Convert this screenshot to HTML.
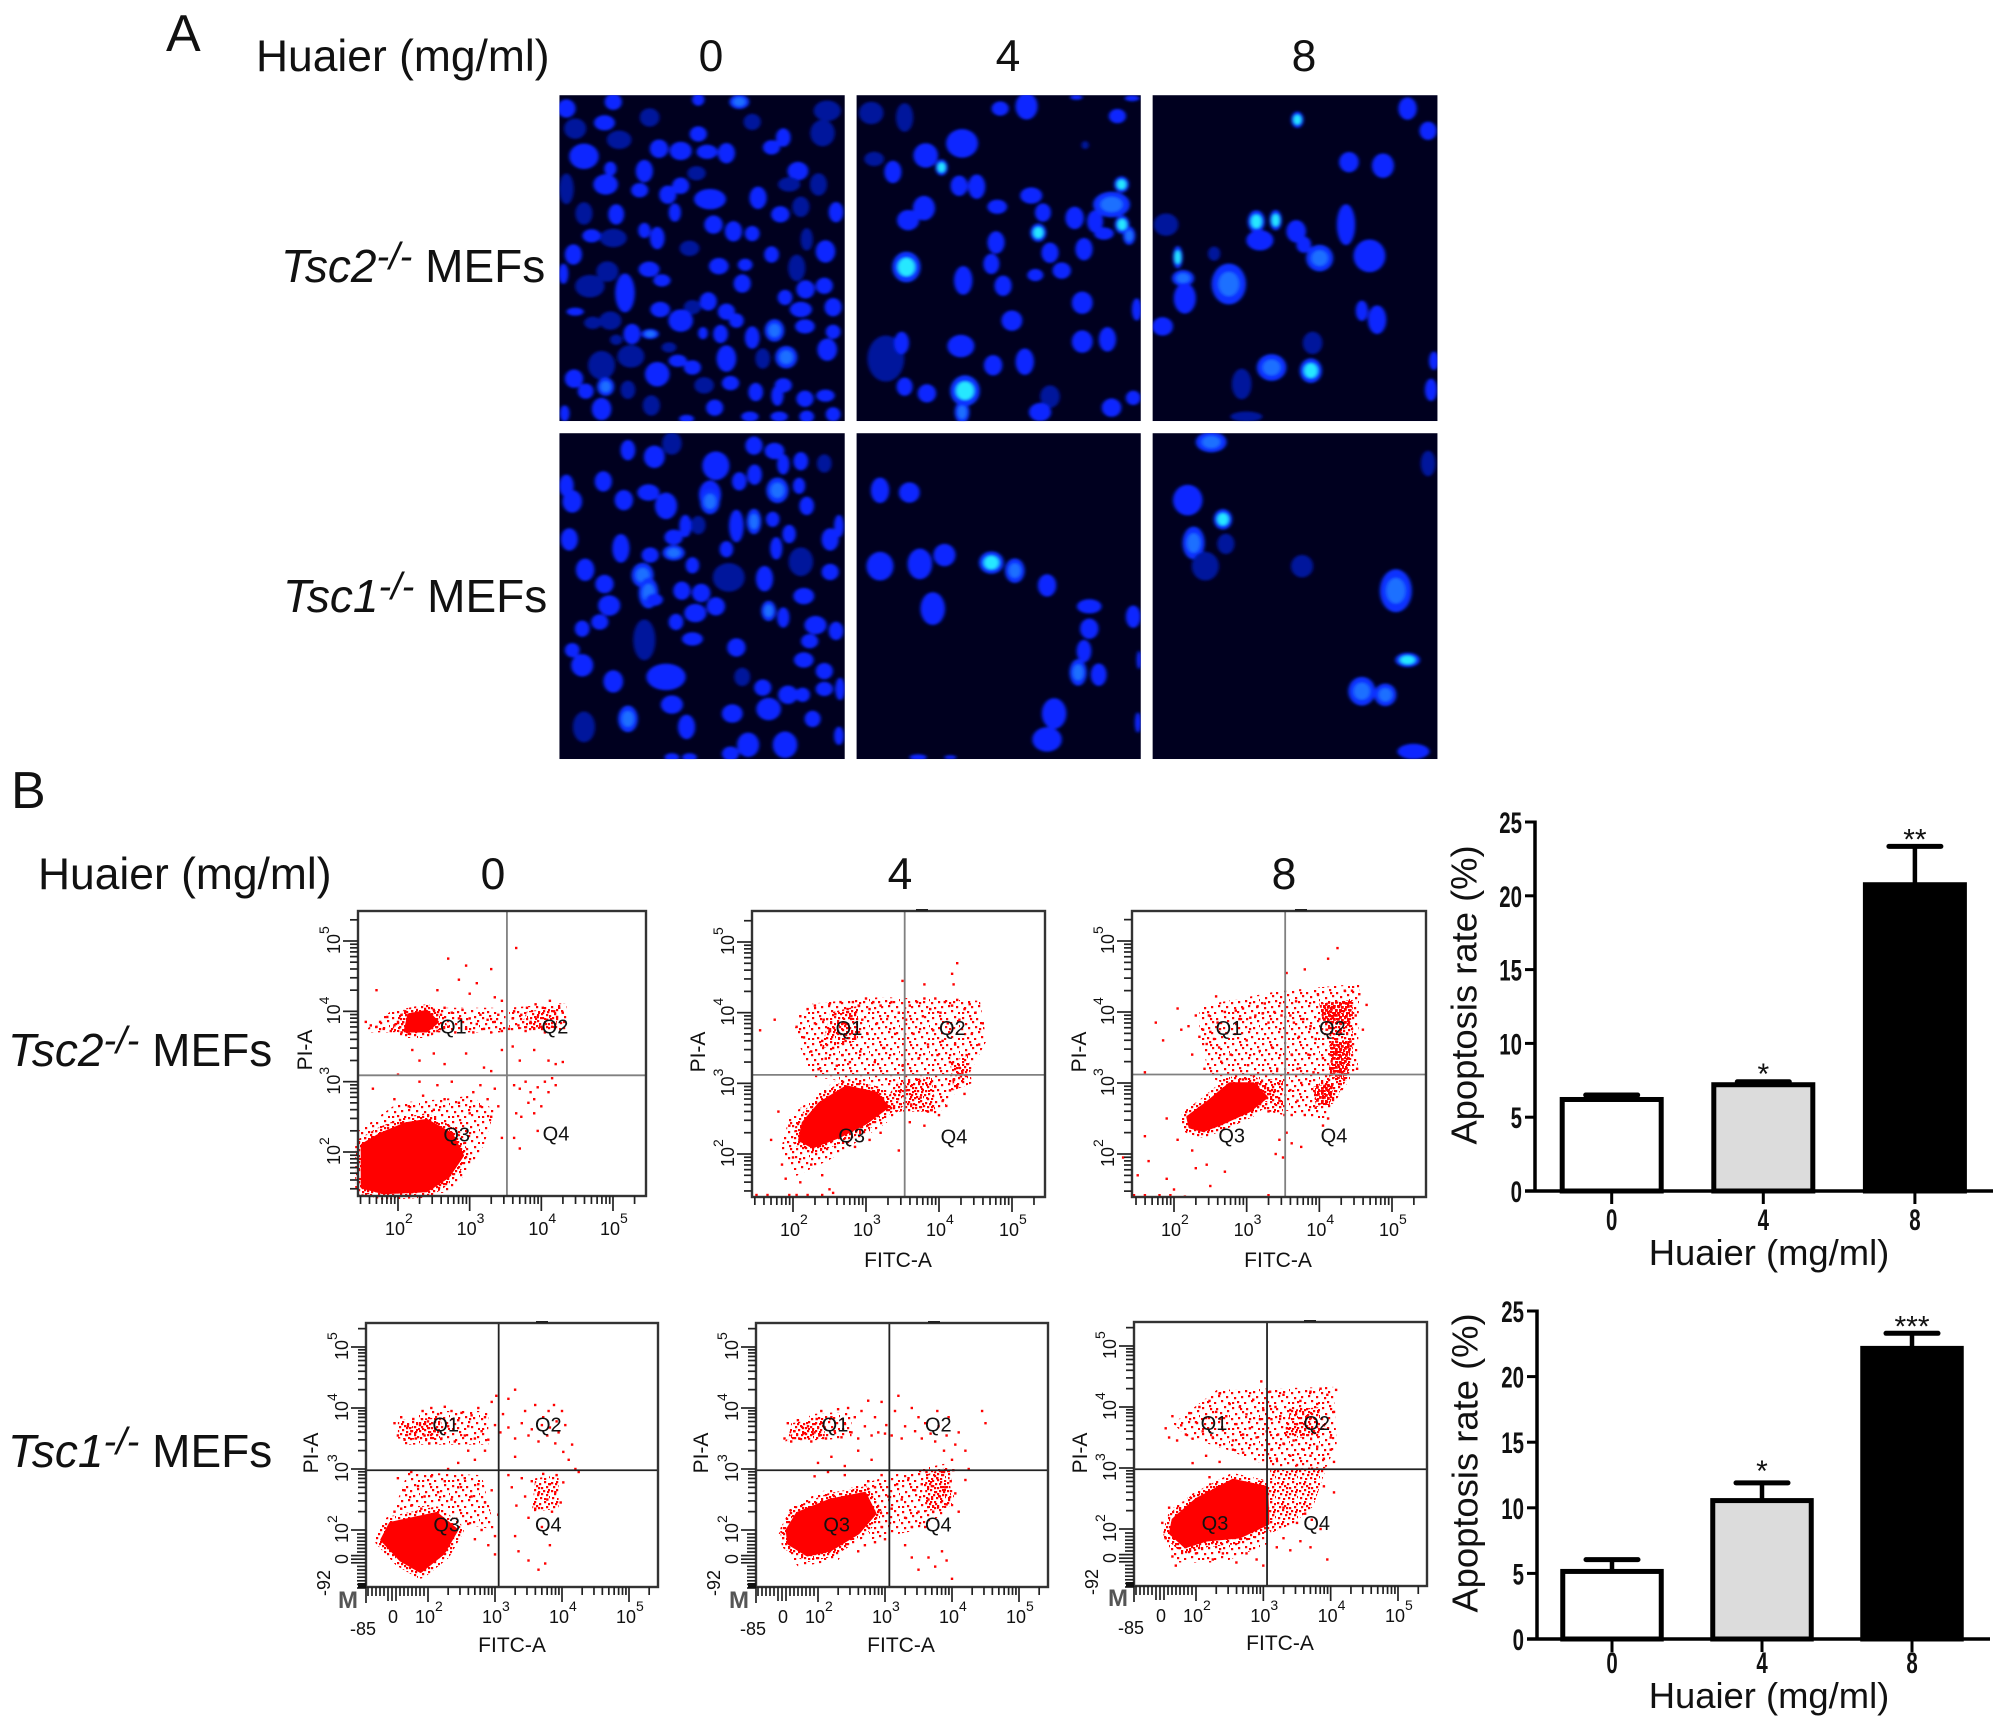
<!DOCTYPE html>
<html lang="en">
<head>
<meta charset="utf-8">
<title>Huaier apoptosis figure</title>
<style>
html,body{margin:0;padding:0;background:#fff;width:2008px;height:1729px;overflow:hidden}
svg{display:block}
text{font-family:"Liberation Sans",Arial,sans-serif;fill:#111}
</style>
</head>
<body>
<svg id="fig" xmlns="http://www.w3.org/2000/svg" width="2008" height="1729" viewBox="0 0 2008 1729">
<defs>
<filter id="soft" x="-30%" y="-30%" width="160%" height="160%"><feGaussianBlur stdDeviation="3"/></filter>
</defs>
<rect x="0" y="0" width="2008" height="1729" fill="#fff"/>

<text x="166" y="51" font-size="52">A</text>
<text x="256" y="71" font-size="44.4">Huaier (mg/ml)</text>
<text x="711" y="71" font-size="44.4" text-anchor="middle">0</text>
<text x="1008" y="71" font-size="44.4" text-anchor="middle">4</text>
<text x="1304" y="71" font-size="44.4" text-anchor="middle">8</text>
<text x="281" y="282" font-size="46"><tspan font-style="italic">Tsc2</tspan><tspan font-style="italic" font-size="38" dy="-13">-/-</tspan><tspan dy="13"> MEFs</tspan></text>
<text x="283" y="612" font-size="46"><tspan font-style="italic">Tsc1</tspan><tspan font-style="italic" font-size="38" dy="-13">-/-</tspan><tspan dy="13"> MEFs</tspan></text>

<text x="11" y="808" font-size="52">B</text>
<text x="38" y="889" font-size="44.4">Huaier (mg/ml)</text>
<text x="493" y="889" font-size="44.4" text-anchor="middle">0</text>
<text x="900" y="889" font-size="44.4" text-anchor="middle">4</text>
<text x="1284" y="889" font-size="44.4" text-anchor="middle">8</text>
<text x="8" y="1066" font-size="46"><tspan font-style="italic">Tsc2</tspan><tspan font-style="italic" font-size="38" dy="-13">-/-</tspan><tspan dy="13"> MEFs</tspan></text>
<text x="8" y="1467" font-size="46"><tspan font-style="italic">Tsc1</tspan><tspan font-style="italic" font-size="38" dy="-13">-/-</tspan><tspan dy="13"> MEFs</tspan></text>

<g id="micro"></g>
<g id="flow"></g>
<g id="bars"></g>
</svg>

<script>
const NS = 'http://www.w3.org/2000/svg';

/* ---------- micrograph nuclei: x, y, rx, ry, tone ---------- */
const microRects = [[33,35,520,765],[540,35,1025,765],[1045,35,1531,765],[33,792,520,1522],[540,792,1025,1522],[1045,792,1531,1522]];
const nucleiA0 = [45,65,15,18,1,125,50,14,16,1,270,45,10,12,1,340,50,16,14,2,490,70,22,20,0,60,110,18,20,0,110,97,17,15,1,187,85,16,18,0,270,122,14,15,1,362,95,14,16,0,415,130,12,18,1,482,120,20,26,0,135,135,20,18,0,75,172,24,25,1,203,155,15,18,1,240,160,18,18,1,285,162,17,14,1,318,165,14,20,1,395,152,14,14,1,440,205,17,18,1,120,200,10,14,1,178,205,14,22,1,112,235,20,20,1,45,245,12,30,0,240,238,14,16,1,267,210,15,14,0,218,258,14,18,1,170,248,14,14,1,290,268,26,20,1,372,265,14,22,1,475,235,14,22,0,425,235,18,14,0,130,302,13,20,1,230,298,10,18,1,75,300,14,22,0,445,285,14,20,0,410,302,15,16,1,505,297,12,20,1,296,325,15,18,1,330,340,14,20,1,362,345,12,15,1,178,338,10,15,1,200,355,12,22,1,88,350,15,13,1,125,355,22,18,0,255,378,16,15,0,57,392,14,20,1,395,392,12,16,1,487,385,16,22,1,455,358,10,22,0,305,418,16,16,1,350,415,12,12,1,186,425,17,15,1,115,430,18,20,0,438,422,14,26,0,40,435,8,20,1,208,450,14,12,1,345,457,14,18,1,85,463,24,22,0,145,478,16,38,1,453,470,15,18,1,485,462,14,16,1,418,488,12,15,1,287,497,14,18,1,205,515,16,15,1,445,515,18,15,1,500,510,14,18,1,60,520,14,8,1,318,520,14,16,1,260,510,14,14,0,120,540,18,18,0,90,545,14,12,0,240,540,20,22,1,335,540,12,14,1,452,553,16,14,1,157,570,14,20,1,188,570,14,10,2,400,562,16,22,2,278,568,8,12,1,308,570,12,18,1,362,578,12,22,1,500,565,12,14,1,490,605,16,22,1,130,583,10,10,0,155,620,22,22,0,220,600,12,10,0,318,625,16,26,1,420,622,18,22,2,380,625,12,20,0,235,630,15,12,1,105,640,22,28,0,58,670,15,18,1,200,660,20,24,1,260,645,14,14,1,325,680,14,14,1,280,685,16,16,0,415,685,14,14,1,368,700,12,18,1,78,698,13,15,1,112,688,14,18,2,150,695,12,18,0,405,708,10,20,1,452,715,14,16,1,487,708,15,12,1,105,738,16,22,1,190,730,14,20,0,298,735,14,16,1,42,748,8,16,1,358,755,14,10,1,408,755,14,10,1,455,755,12,12,1,500,750,12,14,1,250,760,12,8,1];
const nucleiA4 = [565,75,20,22,0,622,85,14,28,0,785,65,14,14,1,830,60,18,26,1,915,40,10,5,1,1010,42,12,6,1,985,82,14,14,1,720,143,26,28,1,658,170,20,24,1,685,197,10,16,3,570,178,16,14,0,602,207,14,22,1,715,238,14,20,1,745,240,14,24,1,930,147,6,8,0,838,260,18,16,1,780,285,16,14,1,858,298,13,18,1,655,288,18,24,1,628,315,18,20,1,912,310,15,22,1,947,318,13,22,1,975,280,30,25,2,992,235,12,16,3,993,325,12,18,3,1005,350,10,18,2,962,345,16,12,1,850,343,13,18,3,778,365,14,22,1,870,388,14,20,1,928,380,14,22,1,770,413,13,20,1,625,420,23,30,3,722,450,15,28,1,845,438,13,12,1,890,428,15,16,1,790,462,14,20,1,925,500,17,22,1,1018,515,8,22,1,805,540,17,20,1,590,625,30,45,0,617,590,12,22,1,718,597,22,22,1,925,587,17,22,1,968,582,14,24,1,773,640,15,20,1,827,632,15,26,1,622,688,13,18,1,660,703,15,18,1,725,697,24,30,3,720,745,12,22,2,870,710,16,22,0,853,745,18,18,1,975,735,16,18,1,1012,713,12,14,1];
const nucleiA8 = [1292,90,10,16,3,1480,65,15,22,1,1515,115,14,18,1,1380,185,16,20,1,1438,193,18,24,1,1068,325,20,22,0,1222,318,14,22,3,1255,315,10,20,3,1228,360,22,20,1,1290,340,16,22,1,1303,370,12,16,1,1375,325,15,40,1,1330,400,22,26,2,1415,395,26,32,1,1088,398,8,22,3,1097,445,18,16,2,1175,458,28,40,2,1100,490,18,30,1,1150,390,10,14,0,1402,518,10,20,1,1428,538,15,28,1,1062,553,17,18,1,1248,645,24,26,2,1315,652,18,24,3,1318,590,16,22,0,1197,682,16,30,0,1520,695,10,22,1,1525,630,8,18,1,1205,755,26,10,0];
const nucleiB0 = [45,910,12,22,1,150,830,12,20,1,195,845,17,22,1,225,815,16,22,0,300,865,22,28,1,365,820,14,18,1,400,832,16,16,1,445,855,12,18,1,485,860,12,18,0,108,900,14,20,1,340,900,12,18,1,366,885,12,20,1,415,862,10,20,1,405,920,18,25,2,442,910,10,16,1,55,945,16,22,1,143,942,15,20,1,185,925,18,16,1,215,955,18,26,1,290,930,18,28,1,290,945,16,25,2,455,955,12,18,1,50,1030,14,22,1,248,1000,10,22,1,270,998,12,18,0,335,1000,12,32,1,365,990,12,25,2,397,985,11,15,1,425,1018,11,18,1,495,1030,14,22,1,510,1000,8,22,1,228,1025,15,15,1,138,1050,14,28,1,188,1065,14,15,1,228,1060,18,15,2,260,1088,11,16,1,318,1052,11,16,1,403,1050,10,22,1,445,1080,20,28,0,77,1098,15,22,1,175,1110,18,24,2,322,1115,26,28,0,383,1118,14,25,1,495,1103,14,16,1,110,1130,15,18,1,185,1150,16,30,2,242,1145,14,18,1,275,1150,15,18,1,300,1180,15,18,1,450,1157,17,16,1,195,1165,14,12,1,118,1178,18,20,1,265,1195,18,18,1,390,1190,12,20,2,415,1205,10,20,1,102,1215,14,15,1,72,1230,12,16,1,232,1215,12,16,1,470,1222,18,18,1,505,1235,12,18,1,178,1255,18,40,0,260,1253,17,13,1,460,1258,14,14,1,335,1272,15,18,1,55,1278,12,14,1,450,1300,16,15,1,72,1312,18,22,1,215,1338,32,26,1,485,1325,14,16,1,125,1348,16,22,1,345,1338,13,18,0,380,1362,14,16,1,423,1378,16,18,1,448,1378,12,14,1,485,1365,14,14,1,512,1365,8,22,1,225,1400,18,18,1,150,1432,16,26,2,328,1420,17,18,1,390,1410,20,22,1,465,1432,13,16,1,250,1450,14,24,1,75,1450,18,30,0,510,1470,8,18,1,355,1490,18,24,1,418,1490,20,26,1,325,1510,14,14,1,225,1518,12,8,1,255,1518,12,8,1];
const nucleiB4 = [580,920,15,25,1,630,925,17,20,1,580,1090,22,28,1,648,1085,20,30,1,690,1065,18,22,1,770,1082,20,22,3,810,1100,16,24,2,865,1133,15,22,1,670,1185,20,32,1,937,1180,20,14,1,937,1230,15,20,1,1012,1203,12,22,1,928,1280,12,22,1,918,1328,14,26,2,953,1333,13,22,1,877,1420,20,30,1,865,1478,24,24,1,1020,1440,5,20,1,1022,1300,4,18,1,645,1518,14,6,1,700,1518,10,4,1];
const nucleiB8 = [1145,812,25,20,2,1105,942,24,30,1,1165,985,15,20,3,1115,1038,18,32,2,1300,1090,18,22,0,1460,1145,26,42,2,1480,1300,20,14,3,1402,1370,22,28,2,1442,1378,18,22,2,1490,1505,26,15,1,1515,860,12,25,0,1135,1090,22,28,0,1170,1040,14,20,0];
const microSets = [nucleiA0,nucleiA4,nucleiA8,nucleiB0,nucleiB4,nucleiB8];
const microPanelNames = ['tsc2-dose-0','tsc2-dose-4','tsc2-dose-8','tsc1-dose-0','tsc1-dose-4','tsc1-dose-8'];

/* ---------- flow cytometry events in log10 units: x, y pairs ---------- */
const eventsTsc2D0 = [1.55,3.85,1.62,3.8,1.7,3.78,1.75,3.85,1.8,3.75,1.85,3.92,1.9,3.72,1.95,3.8,2.0,3.85,2.05,3.7,2.05,3.95,2.1,4.0,2.15,3.68,2.5,4.02,2.55,3.72,2.6,3.95,2.65,4.05,2.7,3.78,2.75,3.98,2.8,3.7,2.85,3.9,2.9,4.02,2.95,3.75,3.0,3.9,3.05,3.7,3.1,3.82,3.15,3.95,3.2,3.75,3.25,3.88,3.3,3.7,3.35,3.85,3.4,3.95,3.45,3.72,1.7,4.3,2.7,4.75,2.95,4.65,3.3,4.6,2.85,4.45,3.1,4.4,2.55,4.3,3.0,4.25,3.35,4.2,3.45,4.15,3.65,4.9,2.2,3.45,2.3,3.3,2.5,3.4,2.65,3.25,2.95,3.4,3.2,3.2,3.3,3.15,3.45,3.45,3.6,3.5,3.7,3.3,3.9,3.45,4.1,3.3,4.2,3.25,4.3,3.28,2.0,3.1,3.55,3.75,3.6,3.9,3.62,4.0,3.68,3.8,3.72,3.95,3.78,3.72,3.8,4.05,3.85,3.85,3.9,3.75,3.92,4.1,3.95,3.92,4.0,3.78,4.02,4.05,4.05,3.7,4.08,3.88,4.12,4.15,4.15,3.78,4.18,4.0,4.22,3.92,4.25,4.05,4.3,3.98,4.32,3.85,3.62,2.95,3.7,2.9,3.78,3.0,3.85,2.85,3.9,2.75,3.95,2.92,4.0,2.65,4.05,3.0,4.1,2.85,4.15,3.05,4.2,2.95,3.65,2.55,3.72,2.5,3.82,2.7,3.9,2.55,3.95,2.3,3.62,2.2,3.7,2.05,2.75,3.0,2.3,3.0,2.55,2.95,3.05,2.85,3.15,2.95,3.25,2.75,3.35,2.9,1.65,2.9,1.95,2.75,2.15,2.65,2.35,2.8,2.5,2.6,2.65,2.75,2.85,2.7,3.0,2.55,3.15,2.65,3.3,2.5,3.45,2.2,3.4,2.65];
const eventsTsc2D4 = [2.05,3.8,2.1,3.95,2.15,3.65,2.2,4.05,2.25,3.45,2.3,3.85,2.3,4.1,2.35,3.2,2.4,3.6,2.42,3.9,2.45,3.35,2.5,3.75,2.5,4.12,2.55,3.5,2.58,3.98,2.6,3.25,2.62,3.7,2.65,4.15,2.68,3.4,2.7,3.85,2.72,3.6,2.75,4.05,2.78,3.3,2.8,3.95,2.82,4.15,2.85,3.65,2.9,4.1,2.92,3.45,2.95,3.9,3.0,4.2,3.02,3.7,3.05,4.05,3.1,4.15,3.12,3.3,3.15,3.85,3.2,4.1,3.25,3.5,3.3,3.95,3.35,4.15,3.4,3.7,3.45,4.0,3.5,3.25,3.55,3.9,3.6,4.1,3.65,3.7,3.7,4.15,3.72,3.35,3.78,3.95,3.8,4.2,3.85,3.55,3.88,4.05,3.92,3.75,3.95,4.2,3.98,3.4,4.02,4.0,4.05,3.6,4.08,4.15,4.12,3.85,4.15,3.3,4.18,4.1,4.22,3.55,4.25,4.18,4.28,3.9,4.32,3.15,4.35,4.05,4.38,3.4,4.42,4.12,4.45,3.7,4.5,4.0,4.55,3.55,4.6,3.85,4.2,3.05,4.25,2.95,4.3,3.1,4.35,2.85,4.28,3.22,4.15,2.9,4.05,2.75,3.95,2.95,3.85,2.6,3.75,2.8,3.7,3.05,3.62,2.7,3.55,2.9,3.6,2.45,3.8,2.4,3.9,2.62,4.0,2.55,4.1,2.68,4.18,4.55,4.2,4.4,4.25,4.7,3.8,4.4,3.5,4.45,1.75,3.9,1.55,3.75,1.8,2.6,1.95,2.4,1.7,2.2,1.85,1.85,1.9,1.65,2.0,1.95,2.1,1.6,2.25,1.85,2.4,1.7,2.5,1.5,1.5,1.42,1.65,1.42,1.95,1.42,2.05,1.42,2.2,1.42,2.4,1.42,2.55,1.45,3.45,2.05,2.85,2.1,3.05,2.2,3.2,2.3];
const eventsTsc2D8 = [1.6,3.15,1.75,3.85,1.85,3.6,2.05,4.05,2.1,3.75,2.2,3.8,2.25,3.4,2.3,3.95,2.35,3.65,2.4,3.75,2.42,3.2,2.45,3.55,2.48,3.95,2.5,3.72,2.55,3.62,2.58,4.22,2.6,3.85,2.62,3.5,2.65,3.3,2.7,4.0,2.72,3.7,2.78,3.4,2.85,4.02,2.9,3.9,2.95,4.05,3.0,3.6,3.02,3.25,3.05,3.92,3.1,3.1,3.12,3.95,3.15,4.08,3.18,3.45,3.22,3.98,3.25,4.12,3.3,3.85,3.35,3.5,3.38,4.0,3.42,3.2,3.48,3.95,3.55,4.55,3.6,3.95,3.62,3.4,3.65,3.85,3.68,4.15,3.7,3.2,3.72,3.65,3.78,3.9,3.8,4.6,3.85,3.4,3.88,3.8,3.92,3.15,3.95,3.62,3.98,4.25,4.0,3.9,4.05,3.35,4.1,3.75,4.12,4.75,4.15,3.2,4.2,3.95,4.25,4.9,4.3,3.7,4.35,4.3,4.4,3.5,4.45,4.3,4.5,3.95,4.52,3.2,4.55,4.25,4.6,3.75,4.65,4.1,3.6,2.9,3.7,2.75,3.75,3.0,3.8,2.55,3.62,2.55,3.55,2.3,3.62,2.15,3.75,2.1,3.95,2.65,4.05,2.4,4.12,2.5,3.15,3.0,2.95,3.05,3.35,2.9,3.45,2.75,3.3,2.6,3.52,2.55,1.9,2.5,1.6,2.25,1.3,1.95,1.65,1.9,1.5,1.7,1.9,1.65,2.0,1.5,2.3,1.8,2.15,1.4,2.25,2.05,2.45,1.85,2.5,1.55,2.7,1.75,3.5,1.95,3.4,2.0,3.45,2.2,2.05,2.2,2.25,2.4,1.45,1.42,1.6,1.42,1.8,1.42,1.95,1.42,3.3,1.42];
const eventsTsc1D0 = [1.5,3.75,1.55,3.55,1.6,3.85,1.65,3.48,1.7,3.7,1.75,3.62,1.78,3.82,1.82,3.5,1.88,3.72,1.92,3.95,1.95,3.55,2.0,3.78,2.02,3.42,2.05,4.0,2.1,3.62,2.15,3.9,2.2,3.5,2.25,4.02,2.3,3.7,2.35,3.95,2.4,3.45,2.45,3.8,2.5,3.92,2.55,3.55,2.6,3.7,2.65,3.88,2.7,3.5,2.75,4.0,2.8,3.62,2.85,3.85,2.9,3.48,2.95,4.1,3.0,3.72,3.02,4.2,3.08,3.6,3.12,3.9,3.2,3.68,3.3,3.5,3.4,3.75,3.45,3.95,3.5,3.55,3.55,3.65,3.6,4.05,3.65,3.45,3.7,3.72,3.72,3.85,3.78,3.55,3.8,3.95,3.82,3.68,3.88,4.05,3.9,3.42,3.92,3.78,3.95,3.6,4.0,3.95,4.02,3.28,4.05,3.72,4.1,3.15,4.15,3.4,4.2,3.0,4.25,2.95,3.3,4.3,3.2,4.15,2.6,3.3,2.45,3.1,2.3,3.0,2.7,3.15,2.85,3.3,3.3,3.2,1.55,2.85,1.65,2.65,1.75,2.95,1.85,2.72,1.95,2.55,2.05,2.88,2.15,2.62,2.25,2.8,2.35,2.5,2.45,2.7,2.55,2.85,2.65,2.55,2.75,2.75,2.85,2.45,2.95,2.65,3.05,2.25,1.5,2.3,1.6,2.35,1.75,2.4,1.9,2.35,2.6,2.1,2.7,1.85,2.8,2.0,2.9,1.75,3.0,1.9,3.0,1.6,3.2,2.9,3.25,2.7,3.32,2.4,3.4,2.85,3.45,2.55,3.5,2.2,3.55,2.8,3.6,2.35,3.65,2.6,3.7,2.05,3.72,2.92,3.78,2.5,3.82,2.75,3.85,2.3,3.9,2.62,3.92,2.9,3.98,2.45,4.02,2.78,3.3,1.9,3.35,1.65,3.5,1.5,3.65,1.35,3.75,1.45,3.82,1.75];
const eventsTsc1D4 = [1.5,3.5,1.55,3.75,1.6,3.45,1.65,3.62,1.7,3.8,1.72,3.5,1.78,3.58,1.85,3.7,1.9,3.45,1.95,3.6,1.98,3.82,2.02,3.55,2.05,3.95,2.1,3.68,2.12,3.5,2.2,3.85,2.25,3.62,2.3,3.98,2.35,3.52,2.4,3.75,2.45,4.0,2.5,3.6,2.55,3.85,2.6,3.5,2.65,3.95,2.7,3.7,2.75,4.12,2.8,3.55,2.85,3.85,2.9,3.6,2.95,4.1,3.0,3.58,3.02,3.72,3.1,3.55,3.15,3.95,3.2,4.2,3.25,3.5,3.3,3.7,3.4,4.0,3.45,3.62,3.5,3.85,3.55,3.5,3.6,3.75,3.68,3.58,3.75,3.45,3.78,3.95,3.8,3.7,3.88,3.3,3.92,3.55,3.95,3.85,4.0,3.15,4.05,3.4,4.1,3.6,4.2,3.3,4.25,3.0,4.45,3.95,4.5,3.75,2.0,3.1,2.2,3.2,2.4,3.05,2.6,3.3,2.8,3.15,1.95,2.88,2.15,2.95,2.4,2.9,2.75,2.8,2.85,2.7,2.95,2.9,3.05,2.55,3.1,2.35,3.18,2.75,3.25,2.5,3.3,2.2,3.35,2.85,3.4,2.05,3.45,2.65,3.5,2.3,3.55,2.75,3.6,2.05,3.62,2.95,3.65,2.5,3.7,2.72,3.72,2.3,3.78,2.85,3.82,2.55,3.85,2.95,3.9,2.7,3.92,2.42,3.98,2.8,4.02,2.98,4.05,2.6,4.1,2.3,4.2,2.82,2.9,2.3,2.95,2.05,3.0,1.85,2.85,1.8,2.7,1.75,2.6,1.65,3.3,1.75,3.4,1.55,3.5,1.35,3.65,1.55,3.75,1.4,3.85,1.65,3.92,1.5,4.0,1.2];
const eventsTsc1D8 = [1.55,3.65,1.6,3.5,1.65,3.85,1.72,3.45,1.78,3.7,1.85,3.55,1.9,3.9,1.95,3.48,2.0,3.75,2.05,4.0,2.1,3.6,2.15,3.82,2.2,4.1,2.25,3.5,2.3,3.92,2.35,4.22,2.4,3.62,2.45,3.85,2.5,4.05,2.55,3.45,2.6,3.72,2.65,4.0,2.7,3.55,2.75,3.88,2.8,3.65,2.85,4.12,2.9,3.5,2.95,3.8,2.97,4.42,3.0,3.95,3.05,3.6,3.1,4.25,3.12,3.8,3.18,4.0,3.22,3.55,3.25,3.85,3.3,4.2,3.35,3.65,3.4,3.95,3.45,3.45,3.5,3.72,3.55,4.1,3.6,3.55,3.65,3.85,3.7,4.25,3.75,3.6,3.8,4.05,3.85,4.3,3.9,3.7,3.95,4.2,4.0,3.5,4.05,3.92,4.08,4.28,3.12,3.3,3.2,3.15,3.3,3.4,3.4,3.2,3.5,3.05,3.6,3.3,3.7,3.2,3.8,3.35,3.9,3.15,4.0,3.3,4.05,3.1,2.55,3.3,2.7,3.25,2.35,3.1,2.15,3.2,1.95,3.08,2.2,2.85,1.7,2.2,1.6,2.35,1.5,2.1,1.55,1.85,1.65,1.55,1.7,1.4,2.0,1.6,2.25,1.5,2.4,1.6,2.6,1.45,2.75,1.6,2.9,1.5,3.0,1.4,3.2,1.7,3.3,1.85,3.4,1.65,3.55,1.8,3.7,1.7,3.85,2.0,3.95,1.5,3.9,2.7,4.05,2.6,3.3,2.35,3.5,2.1,3.62,2.25,3.72,2.15];

/* solid density regions, log10 units */
const denseTsc2D0 = [[1.5,1.5,1.5,2.1,1.75,2.25,2.1,2.4,2.4,2.45,2.75,2.25,2.9,1.95,2.7,1.65,2.4,1.45,1.8,1.42],[2.1,3.72,2.15,3.95,2.4,4.0,2.55,3.85,2.4,3.72]];
const denseTsc2D4 = [[2.09,2.2,2.14,2.44,2.37,2.72,2.73,2.95,3.14,2.86,3.3,2.67,3.0,2.44,2.64,2.25,2.27,2.1]];
const denseTsc2D8 = [[2.19,2.52,2.44,2.71,2.77,2.99,3.09,2.99,3.27,2.8,3.04,2.61,2.63,2.42,2.4,2.33,2.22,2.38]];
const denseTsc1D0 = [[1.31,1.84,1.44,2.11,1.79,2.19,2.13,2.27,2.43,2.0,2.23,1.62,1.89,1.32,1.59,1.51]];
const denseTsc1D4 = [[1.54,2.0,1.69,2.27,2.18,2.49,2.7,2.6,2.85,2.27,2.6,1.95,2.18,1.67,1.84,1.59,1.56,1.78]];
const denseTsc1D8 = [[1.66,2.15,2.0,2.48,2.55,2.8,3.05,2.68,3.07,2.09,2.65,1.87,2.16,1.82,1.84,1.71,1.62,1.93]];

/* thickly speckled regions */
const thickTsc2D8 = [[4.0,4.12,4.46,4.17,4.42,3.8,4.05,3.85],[4.17,3.6,4.45,3.6,4.38,3.04,4.14,3.08],[3.92,2.95,4.2,3.0,4.15,2.68,3.95,2.7]];

/* medium-density speckled regions */
const midTsc2D0 = [[1.9,3.7,2.0,3.95,2.6,4.05,2.7,3.75],[3.7,3.75,3.8,4.0,4.25,4.05,4.2,3.75]];
const midTsc2D4 = [[2.4,3.5,2.5,4.0,2.9,4.1,2.9,3.6],[3.2,2.6,3.4,3.0,3.9,3.1,3.95,2.6],[4.2,2.9,4.15,3.3,4.4,3.4,4.45,3.0]];
const midTsc2D8 = [[4.0,4.12,4.46,4.17,4.46,3.37,4.37,3.04,4.19,2.71,3.96,2.66,3.91,2.9,4.14,3.13,4.14,3.7,4.05,3.84],[3.1,2.65,3.1,3.05,3.5,3.05,3.5,2.55]];
const midTsc1D0 = [[1.55,3.5,1.55,3.8,2.2,3.85,2.2,3.45],[3.55,2.3,3.6,2.85,3.95,2.9,3.95,2.35]];
const midTsc1D4 = [[1.55,3.45,1.6,3.75,2.1,3.85,2.1,3.5],[3.6,2.3,3.6,2.9,3.95,3.05,4.0,2.4]];
const midTsc1D8 = [[3.1,2.97,3.94,3.02,3.74,2.37,3.45,2.09,3.1,1.93],[3.3,3.5,3.4,3.95,3.85,4.0,3.85,3.5]];

/* sparse speckled regions */
const hazeTsc2D0 = [[1.45,1.4,1.45,2.3,2.0,2.7,2.6,2.75,3.0,2.8,3.35,2.6,3.2,2.1,2.95,1.7,2.7,1.42],[1.5,3.7,1.9,4.0,2.3,4.05,3.5,4.05,3.5,3.7],[3.55,3.72,3.55,4.05,4.35,4.12,4.35,3.72]];
const hazeTsc2D4 = [[1.82,2.01,1.95,2.53,2.64,3.09,3.37,2.9,3.55,2.72,3.28,2.44,2.5,1.92,2.05,1.69],[2.27,4.13,3.19,4.22,4.56,4.17,4.65,3.6,4.37,3.05,3.96,2.53,3.55,2.72,3.37,2.95,2.27,3.09,2.0,3.75]];
const hazeTsc2D8 = [[2.35,4.08,3.41,4.29,4.55,4.4,4.53,3.23,4.05,2.47,3.55,2.61,3.32,2.71,2.49,3.08,2.35,3.7]];
const hazeTsc1D0 = [[1.6,3.4,1.9,3.95,2.9,3.95,2.9,3.4],[1.5,2.35,1.7,2.95,2.8,2.9,3.0,2.0,2.55,2.1,2.2,2.4]];
const hazeTsc1D4 = [[1.5,3.45,1.9,3.9,2.5,3.95,2.5,3.5],[2.5,2.7,3.1,2.9,3.95,3.1,4.05,2.4,3.5,2.0,2.8,1.85],[1.4,1.9,1.6,2.4,2.2,2.7,2.8,2.3,2.3,1.5,1.7,1.4]];
const hazeTsc1D8 = [[1.66,3.73,2.31,4.28,4.04,4.33,4.09,3.4,3.94,3.02,3.1,3.02,2.46,3.3,1.86,3.51],[1.5,1.85,1.6,2.3,2.2,2.75,3.0,2.8,3.05,1.75,2.4,1.45,1.75,1.45]];

/* hand-placed speckle textures for dense scatter regions */
const sparseTile = [2,3,9,1,16,4,24,2,5,9,12,7,20,8,27,6,1,14,8,13,15,12,23,13,29,11,4,19,11,18,18,17,26,18,7,23,14,24,21,22,28,24,10,4,19,14,2,24];
const mediumTile = [1,2,6,1,11,3,16,1,20,3,3,6,8,5,13,7,18,6,1,10,6,9,10,11,15,10,20,9,4,13,9,14,13,13,18,14,2,17,7,18,12,17,16,18,21,16,5,3,19,11,10,7];
const thickTile = [1,1,5,0,9,2,12,0,3,4,7,4,11,5,0,7,5,8,9,8,13,9,2,11,7,11,11,12];

/* axis tick labels */
const flowDecades = [2,3,4,5];
const quadrantNames = ['Q1','Q2','Q3','Q4'];

/* bar chart values */
const barCategories = ['0','4','8'];
const rateTicks = [0,5,10,15,20,25];
const tsc2Rates = [6.2,7.2,20.75];
const tsc2Errors = [0.3,0.2,2.6];
const tsc2Stars = ['','*','**'];
const tsc1Rates = [5.15,10.55,22.15];
const tsc1Errors = [0.9,1.35,1.15];
const tsc1Stars = ['','*','***'];

function mk(tag, attrs, parent){
  const el = document.createElementNS(NS, tag);
  for (const k in attrs) el.setAttribute(k, attrs[k]);
  parent.appendChild(el);
  return el;
}

/* speckle patterns */
(function(){
  const defs = document.querySelector('defs');
  const build = function(id, w, h, tile, size){
    const pat = mk('pattern', {id:id, width:w, height:h, patternUnits:'userSpaceOnUse'}, defs);
    for (let i = 0; i < tile.length; i += 2){
      mk('rect', {x:tile[i], y:tile[i+1], width:size, height:size, fill:'#f00'}, pat);
    }
  };
  build('speckSparse', 30, 26, sparseTile, 2.2);
  build('speckMedium', 22, 20, mediumTile, 2.2);
  build('speckThick', 14, 13, thickTile, 2.8);
})();

/* ---------- micrographs ---------- */
(function(){
  const host = document.getElementById('micro');
  const defs = document.querySelector('defs');
  const toneOuter = ['#00169c','#0828ff','#0a30ff','#0a34ff'];
  microRects.forEach(function(r, idx){
    const cp = mk('clipPath', {id:'clip'+idx}, defs);
    mk('rect', {x:r[0], y:r[1], width:r[2]-r[0], height:r[3]-r[1]}, cp);
    const g = mk('g', {transform:'translate(540,79.5) scale(0.5862,0.4465)', 'clip-path':'url(#clip'+idx+')'}, host);
    
    
    const bg = mk('rect', {x:r[0], y:r[1], width:r[2]-r[0], height:r[3]-r[1], fill:'#00001f'}, g);
    
    
    const blobs = mk('g', {filter:'url(#soft)'}, g);
    const set = microSets[idx];
    for (let i = 0; i < set.length; i += 5){
      const tone = set[i+4];
      const n = mk('ellipse', {cx:set[i], cy:set[i+1], rx:set[i+2]*1.05, ry:set[i+3]*1.15, fill:toneOuter[tone]}, blobs);
      
      
      if (tone >= 2){
        const c = mk('ellipse', {cx:set[i], cy:set[i+1], rx:set[i+2]*0.62, ry:set[i+3]*0.68, fill: tone === 3 ? '#28e8ff' : '#1c70ff'}, blobs);
        
        
      }
    }
  });
})();

/* ---------- flow plots ---------- */
const flowPanels = [
 {id:'tsc2-dose-0', f:[358,911,646,1196], xt:[398,613], yt:[1152,941], vq:3.52, hq:3.09, line:'#808080', biex:false, fitc:null, pi:[312,1050], ev:eventsTsc2D0, dense:denseTsc2D0, thick:[], mid:midTsc2D0, haze:hazeTsc2D0, q:[[520,430],[825,430],[530,755],[828,752]], o:[280,890], stub:0},
 {id:'tsc2-dose-4', f:[752,911,1045,1197], xt:[793,1012], yt:[1154,942], vq:3.53, hq:3.12, line:'#808080', biex:false, fitc:[898,1267], pi:[705,1052], ev:eventsTsc2D4, dense:denseTsc2D4, thick:[], mid:midTsc2D4, haze:hazeTsc2D4, q:[[507,435],[817,435],[515,757],[822,760]], o:[680,890], stub:170},
 {id:'tsc2-dose-8', f:[1132,911,1426,1197], xt:[1174,1392], yt:[1154,941], vq:3.53, hq:3.12, line:'#808080', biex:false, fitc:[1278,1267], pi:[1086,1052], ev:eventsTsc2D8, dense:denseTsc2D8, thick:thickTsc2D8, mid:midTsc2D8, haze:hazeTsc2D8, q:[[507,435],[817,435],[515,757],[822,757]], o:[1060,890], stub:169},
 {id:'tsc1-dose-0', f:[366,1323,658,1587], xt:[428,629], yt:[1530,1347], vq:3.055, hq:2.98, line:'#222', biex:true, fitc:[512,1652], pi:[318,1453], ev:eventsTsc1D0, dense:denseTsc1D0, thick:[], mid:midTsc1D0, haze:hazeTsc1D0, q:[[497,365],[805,365],[500,665],[805,665]], o:[280,1310], m:[348,1608], z:393, n:363, stub:176},
 {id:'tsc1-dose-4', f:[756,1323,1048,1587], xt:[818,1019], yt:[1530,1347], vq:3.065, hq:2.98, line:'#222', biex:true, fitc:[901,1652], pi:[708,1453], ev:eventsTsc1D4, dense:denseTsc1D4, thick:[], mid:midTsc1D4, haze:hazeTsc1D4, q:[[465,365],[775,365],[470,665],[775,665]], o:[680,1310], m:[739,1608], z:783, n:753, stub:178},
 {id:'tsc1-dose-8', f:[1134,1322,1427,1586], xt:[1196,1398], yt:[1529,1346], vq:3.055, hq:2.98, line:'#222', biex:true, fitc:[1280,1650], pi:[1087,1453], ev:eventsTsc1D8, dense:denseTsc1D8, thick:[], mid:midTsc1D8, haze:hazeTsc1D8, q:[[462,360],[770,360],[465,660],[770,660]], o:[1060,1310], m:[1118,1606], z:1161, n:1131, stub:176}
];

(function(){
  const host = document.getElementById('flow');
  flowPanels.forEach(function(p){
    const g = mk('g', {}, host);
    
    
    const x = function(v){ return p.xt[0] + (v-2)*(p.xt[1]-p.xt[0])/3; };
    const y = function(v){ return p.yt[0] - (v-2)*(p.yt[0]-p.yt[1])/3; };
    const poly = function(arr){
      const s = [];
      for (let i = 0; i < arr.length; i += 2) s.push(x(arr[i]).toFixed(1) + ',' + y(arr[i+1]).toFixed(1));
      return s.join(' ');
    };
    p.haze.forEach(function(h){
      const el = mk('polygon', {points:poly(h), fill:'url(#speckSparse)'}, g);
      
      
    });
    p.mid.forEach(function(h){
      const el = mk('polygon', {points:poly(h), fill:'url(#speckMedium)'}, g);
      
      
    });
    p.thick.forEach(function(h){
      const el = mk('polygon', {points:poly(h), fill:'url(#speckThick)'}, g);
      
      
    });
    p.dense.forEach(function(h){
      const halo = mk('polygon', {points:poly(h), fill:'none', stroke:'url(#speckMedium)', 'stroke-width':14, 'stroke-linejoin':'round'}, g);
      
      
      const el = mk('polygon', {points:poly(h), fill:'#ff0000', stroke:'#ff0000', 'stroke-width':3, 'stroke-linejoin':'round'}, g);
      
      
    });
    for (let i = 0; i < p.ev.length; i += 2){
      const d = mk('rect', {x:(x(p.ev[i])-1.2).toFixed(1), y:(y(p.ev[i+1])-1.2).toFixed(1), width:2.4, height:2.4, fill:'#f00'}, g);
      
      
    }
    const f = p.f;
    const vl = mk('line', {x1:x(p.vq), x2:x(p.vq), y1:f[1], y2:f[3], stroke:p.line, 'stroke-width':1.8}, g);
    
    
    const hl = mk('line', {x1:f[0], x2:f[2], y1:y(p.hq), y2:y(p.hq), stroke:p.line, 'stroke-width':1.8}, g);
    
    
    const fr = mk('rect', {x:f[0], y:f[1], width:f[2]-f[0], height:f[3]-f[1], fill:'none', stroke:'#333', 'stroke-width':2.4}, g);
    
    
    if (p.stub){
      const sb = mk('line', {x1:f[0]+p.stub-6, x2:f[0]+p.stub+6, y1:f[1]-1, y2:f[1]-1, stroke:'#222', 'stroke-width':2}, g);
      
      
    }

    /* ticks */
    const tg = mk('g', {stroke:'#222', 'stroke-width':1.7}, g);
    
    
    for (let d = 1; d <= 5; d++){
      for (let m = 1; m <= 9; m++){
        const v = d + Math.log10(m);
        const len = m === 1 ? 15 : 8;
        if (!(p.biex && v < 2)){
          const px = x(v), py = y(v);
          if (px > f[0] && px < f[2]) mk('line', {x1:px, x2:px, y1:f[3], y2:f[3]+len}, tg);
          if (py > f[1] && py < f[3]) mk('line', {y1:py, y2:py, x1:f[0], x2:f[0]-len}, tg);
        }
      }
    }
    if (p.biex){
      for (let px = x(2)-4; px > f[0]; px -= 4){
        const long = Math.abs(px-p.z) < 7;
        mk('line', {x1:px, x2:px, y1:f[3], y2:f[3]+(long?14:9)}, tg);
      }
      mk('line', {x1:f[0], x2:f[0], y1:f[3], y2:f[3]+16}, tg);
      const zy = y(2)+28;
      for (let py = y(2)+4; py < f[3]+1; py += 3.6){
        const long = Math.abs(py-zy) < 6;
        mk('line', {y1:py, y2:py, x1:f[0], x2:f[0]-(long?15:9)}, tg);
      }
      const base = mk('rect', {x:f[0]-8, y:f[3]-4, width:8, height:5, fill:'#111', stroke:'none'}, g);
      
      
    }

    /* decade labels */
    flowDecades.forEach(function(e){
      const bx = p.biex ? f[3]+36 : f[3]+39;
      const lx = mk('text', {x:x(e)-13, y:bx, 'font-size':18, fill:'#222'}, g);
      lx.textContent = '10';
      
      
      const ex = mk('text', {x:x(e)+7, y:bx-12, 'font-size':14, fill:'#222'}, g);
      ex.textContent = String(e);
      
      
      const by = f[0]-18;
      const ly = mk('text', {transform:'translate('+by+','+(y(e)+13)+') rotate(-90)', 'font-size':18, fill:'#222'}, g);
      ly.textContent = '10';
      
      
      const ey = mk('text', {transform:'translate('+(by-11)+','+(y(e)-7)+') rotate(-90)', 'font-size':14, fill:'#222'}, g);
      ey.textContent = String(e);
      
      
    });

    if (p.biex){
      const z = mk('text', {x:p.z, y:f[3]+36, 'font-size':18, 'text-anchor':'middle', fill:'#222'}, g);
      z.textContent = '0';
      
      
      const n = mk('text', {x:p.n, y:f[3]+48, 'font-size':18, 'text-anchor':'middle', fill:'#222'}, g);
      n.textContent = '-85';
      
      
      const zy = mk('text', {transform:'translate('+(f[0]-18)+','+(f[3]-28)+') rotate(-90)', 'font-size':18, 'text-anchor':'middle', fill:'#222'}, g);
      zy.textContent = '0';
      
      
      const ny = mk('text', {transform:'translate('+(f[0]-36)+','+(f[3]-4)+') rotate(-90)', 'font-size':18, 'text-anchor':'middle', fill:'#222'}, g);
      ny.textContent = '-92';
      
      
      const m = mk('text', {x:p.m[0], y:p.m[1], 'font-size':24, 'font-weight':'bold', 'text-anchor':'middle', style:'fill:#555'}, g);
      m.textContent = 'M';
      
      
    }

    /* quadrant labels */
    p.q.forEach(function(c, i){
      const t = mk('text', {x:p.o[0]+c[0]/3, y:p.o[1]+c[1]/3, 'font-size':20, 'text-anchor':'middle', fill:'#222'}, g);
      t.textContent = quadrantNames[i];
      
      
    });

    /* axis titles */
    const pi = mk('text', {transform:'translate('+p.pi[0]+','+p.pi[1]+') rotate(-90)', 'font-size':21, 'text-anchor':'middle', fill:'#222'}, g);
    pi.textContent = 'PI-A';
    
    
    if (p.fitc){
      const ft = mk('text', {x:p.fitc[0], y:p.fitc[1], 'font-size':21, 'text-anchor':'middle', fill:'#222'}, g);
      ft.textContent = 'FITC-A';
      
      
    }
  });
})();

/* ---------- bar charts ---------- */
const barCharts = [
 {id:'tsc2', rates:tsc2Rates, errs:tsc2Errors, stars:tsc2Stars, axisX:1535, axisEnd:1993, y0:1191, y25:822, c0:1611.7, step:151.6, w:104, titleY:1265, titleX:1769, ylabelX:1476.5, ylabelY:995, tickBase:1230},
 {id:'tsc1', rates:tsc1Rates, errs:tsc1Errors, stars:tsc1Stars, axisX:1537, axisEnd:1990, y0:1639, y25:1311, c0:1612, step:150, w:103.5, titleY:1708, titleX:1769, ylabelX:1477.5, ylabelY:1463, tickBase:1673}
];
const fills = ['#ffffff','#dcdcdc','#000000'];

(function(){
  const host = document.getElementById('bars');
  barCharts.forEach(function(c){
    const g = mk('g', {}, host);
    
    
    const y = function(v){ return c.y0 - v*(c.y0-c.y25)/25; };
    const cx = function(i){ return c.c0 + i*c.step; };

    c.rates.forEach(function(v, i){
      const top = y(v), errTop = y(v + c.errs[i]);
      const stem = mk('line', {x1:cx(i), x2:cx(i), y1:top, y2:errTop, stroke:'#000', 'stroke-width':4.5}, g);
      
      
      const cap = mk('line', {x1:cx(i)-26, x2:cx(i)+26, y1:errTop, y2:errTop, stroke:'#000', 'stroke-width':5, 'stroke-linecap':'round'}, g);
      
      
      const b = mk('rect', {x:cx(i)-c.w/2+2.5, y:top, width:c.w-5, height:c.y0-top, fill:fills[i], stroke:'#000', 'stroke-width':5}, g);
      
      
      const tk = mk('line', {x1:cx(i), x2:cx(i), y1:c.y0, y2:c.y0+13, stroke:'#000', 'stroke-width':3}, g);
      
      
      const lb = mk('text', {transform:'translate('+cx(i)+','+c.tickBase+') scale(0.68,1)', 'font-size':30, 'font-weight':'bold', 'text-anchor':'middle'}, g);
      lb.textContent = barCategories[i];
      
      
      if (c.stars[i]){
        const st = mk('text', {x:cx(i), y:errTop+(c.errs[i]<0.5?2:(c.id==='tsc1'&&i===1?-2:3)), 'font-size':30, 'text-anchor':'middle'}, g);
        st.textContent = c.stars[i];
        
        
      }
    });

    const ya = mk('line', {x1:c.axisX, x2:c.axisX, y1:c.y25-1.5, y2:c.y0+1.5, stroke:'#000', 'stroke-width':3.5}, g);
    
    
    const xa = mk('line', {x1:c.axisX-10, x2:c.axisEnd, y1:c.y0, y2:c.y0, stroke:'#000', 'stroke-width':3.5}, g);
    
    

    rateTicks.forEach(function(t){
      const tk = mk('line', {x1:c.axisX-10, x2:c.axisX, y1:y(t), y2:y(t), stroke:'#000', 'stroke-width':3}, g);
      
      
      const lb = mk('text', {transform:'translate('+(c.axisX-13)+','+(y(t)+11)+') scale(0.68,1)', 'font-size':30, 'font-weight':'bold', 'text-anchor':'end'}, g);
      lb.textContent = String(t);
      
      
    });

    const yt = mk('text', {transform:'translate('+c.ylabelX+','+c.ylabelY+') rotate(-90)', 'font-size':36.4, 'text-anchor':'middle'}, g);
    yt.textContent = 'Apoptosis rate (%)';
    
    
    const xt = mk('text', {x:c.titleX, y:c.titleY, 'font-size':36.4, 'text-anchor':'middle'}, g);
    xt.textContent = 'Huaier (mg/ml)';
    
    
  });
})();
</script>
</body>
</html>
